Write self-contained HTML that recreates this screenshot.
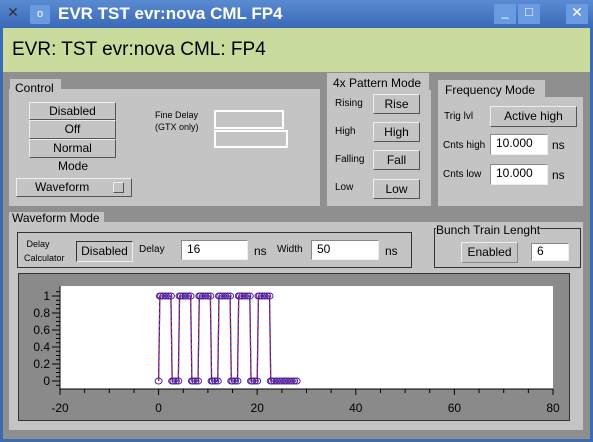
<!DOCTYPE html>
<html><head><meta charset="utf-8"><style>
*{box-sizing:border-box}
body{margin:0;width:593px;height:442px;overflow:hidden;font-family:"Liberation Sans",sans-serif;background:#3a6bb5;position:relative}
div,span{position:absolute}
.t{font-size:11px;color:#000;white-space:nowrap}
.btn{background:#c4c4c4;border:1px solid;border-color:#eee #555 #555 #eee;font-size:12px;text-align:center;line-height:16px;color:#000}
.in{background:#fff;border:1px solid;border-color:#888 #eee #eee #888;font-size:12px;padding-left:5px;line-height:17px}
.pan{background:#c4c4c4}
</style></head><body>
<div style="left:0;top:0;width:593px;height:28px;background:linear-gradient(#5a8ad0,#3a6ab8)">
 <div style="left:4px;top:4px;width:18px;height:18px;color:#333;font-size:14px;text-align:center">✕</div>
 <div style="left:30px;top:5px;width:20px;height:19px;background:#6a9ae0;border-radius:2px;color:#fff;font-size:11px;text-align:center;line-height:19px">o</div>
 <div style="left:58px;top:4px;color:#fff;font-size:17px;font-weight:bold">EVR TST evr:nova CML FP4</div>
 <div style="left:494px;top:4px;width:22px;height:20px;background:#6a9ae0;color:#fff;text-align:center;font-size:13px">_</div>
 <div style="left:518px;top:4px;width:22px;height:20px;background:#6a9ae0;color:#fff;text-align:center;font-size:13px">□</div>
 <div style="left:566px;top:4px;width:22px;height:20px;background:#6a9ae0;color:#fff;text-align:center;font-size:14px">✕</div>
</div>
<div style="left:3px;top:28px;width:587px;height:411px;background:#8f8f8f"></div>
<div style="left:3px;top:28px;width:587px;height:44px;background:#c9dc9e">
 <div style="left:9px;top:11px;font-size:19px;color:#000">EVR: TST evr:nova CML: FP4</div>
</div>
<!-- Control -->
<div class="pan" style="left:10px;top:79px;width:51px;height:12px"></div>
<div class="pan" style="left:9px;top:89px;width:311px;height:117px"></div>
<div class="t" style="left:15px;top:81px;font-size:12px">Control</div>
<div class="btn" style="left:29px;top:102px;width:87px;height:18px">Disabled</div>
<div class="btn" style="left:29px;top:120px;width:87px;height:19px">Off</div>
<div class="btn" style="left:29px;top:139px;width:87px;height:19px">Normal</div>
<div class="t" style="left:58px;top:159px;font-size:12px">Mode</div>
<div class="btn" style="left:16px;top:178px;width:116px;height:19px;text-align:left;padding-left:18px">Waveform<span style="left:96px;top:3px;width:11px;height:11px;border:1px solid;border-color:#eee #555 #555 #eee"></span></div>
<div class="t" style="left:155px;top:109px;font-size:9px;line-height:12px">Fine Delay<br>(GTX only)</div>
<div style="left:214px;top:110px;width:70px;height:19px;border:2px solid #fff"></div>
<div style="left:214px;top:130px;width:74px;height:18px;border:2px solid #fff"></div>
<!-- 4x pattern -->
<div class="pan" style="left:327px;top:73px;width:104px;height:133px"></div>
<div class="t" style="left:333px;top:76px;font-size:12px">4x Pattern Mode</div>
<div style="left:429px;top:73px;width:2px;height:17px;background:#8f8f8f"></div>
<div class="t" style="left:335px;top:98px;font-size:10px">Rising</div>
<div class="t" style="left:335px;top:126px;font-size:10px">High</div>
<div class="t" style="left:335px;top:154px;font-size:10px">Falling</div>
<div class="t" style="left:335px;top:182px;font-size:10px">Low</div>
<div class="btn" style="left:373px;top:94px;width:47px;height:20px;line-height:18px">Rise</div>
<div class="btn" style="left:373px;top:122px;width:47px;height:20px;line-height:18px">High</div>
<div class="btn" style="left:373px;top:150px;width:47px;height:20px;line-height:18px">Fall</div>
<div class="btn" style="left:373px;top:179px;width:47px;height:20px;line-height:18px">Low</div>
<!-- Frequency -->
<div class="pan" style="left:438px;top:80px;width:107px;height:18px"></div>
<div class="t" style="left:445px;top:83px;font-size:12px">Frequency Mode</div>
<div class="pan" style="left:438px;top:97px;width:145px;height:109px"></div>
<div class="t" style="left:444px;top:111px;font-size:10px">Trig lvl</div>
<div class="btn" style="left:490px;top:106px;width:87px;height:21px;line-height:19px">Active high</div>
<div class="t" style="left:443px;top:140px;font-size:10px">Cnts high</div>
<div class="in" style="left:490px;top:134px;width:58px;height:21px">10.000</div>
<div class="t" style="left:552px;top:138px;font-size:12px">ns</div>
<div class="t" style="left:443px;top:169px;font-size:10px">Cnts low</div>
<div class="in" style="left:490px;top:164px;width:58px;height:21px">10.000</div>
<div class="t" style="left:552px;top:168px;font-size:12px">ns</div>
<!-- Waveform mode -->
<div class="pan" style="left:9px;top:212px;width:95px;height:12px"></div>
<div class="pan" style="left:9px;top:222px;width:574px;height:208px"></div>
<div class="t" style="left:12px;top:211px;font-size:12px">Waveform Mode</div>
<div style="left:17px;top:232px;width:395px;height:36px;border:1px solid #333"></div>
<div class="t" style="left:24px;top:237px;font-size:9px;line-height:14px">&nbsp;Delay<br>Calculator</div>
<div class="btn" style="left:76px;top:241px;width:57px;height:21px;line-height:19px;border-color:#333 #eee #eee #333">Disabled</div>
<div class="t" style="left:139px;top:244px;font-size:10px">Delay</div>
<div class="in" style="left:181px;top:240px;width:67px;height:20px">16</div>
<div class="t" style="left:254px;top:244px;font-size:12px">ns</div>
<div class="t" style="left:277px;top:244px;font-size:10px">Width</div>
<div class="in" style="left:311px;top:240px;width:68px;height:20px">50</div>
<div class="t" style="left:385px;top:244px;font-size:12px">ns</div>
<div style="left:434px;top:228px;width:147px;height:40px;border:1px solid #333"></div>
<div class="t" style="left:436px;top:223px;font-size:12px;background:#c4c4c4">Bunch Train Lenght</div>
<div class="btn" style="left:461px;top:242px;width:57px;height:21px;line-height:19px;border-color:#eee #888 #888 #eee">Enabled</div>
<div class="in" style="left:531px;top:243px;width:38px;height:18px;line-height:15px">6</div>
<!-- chart -->
<div style="left:18px;top:273px;width:552px;height:148px;background:#8a8a8a;border:1px solid #333"></div>
<svg width="593" height="442" style="position:absolute;left:0;top:0" id="chart"></svg>
<script>
const xValues=[0,0.25,0.5,1,1.5,2,2.5,2.75,3,3.5,4,4.25,4.5,5,5.5,6,6.5,6.75,7,7.5,8,8.25,8.5,9,9.5,10,10.5,10.75,11,11.5,12,12.25,12.5,13,13.5,14,14.5,14.75,15,15.5,16,16.25,16.5,17,17.5,18,18.5,18.75,19,19.5,20,20.25,20.5,21,21.5,22,22.5,22.75,23,23.5,24,24.5,25,25.5,26,26.5,27,27.5,28];
const yValues=[0,1,1,1,1,1,1,0,0,0,0,1,1,1,1,1,1,0,0,0,0,1,1,1,1,1,1,0,0,0,0,1,1,1,1,1,1,0,0,0,0,1,1,1,1,1,1,0,0,0,0,1,1,1,1,1,1,0,0,0,0,0,0,0,0,0,0,0,0];
const xTicks=[-20,0,20,40,60,80];
const yTicks=[0,0.2,0.4,0.6,0.8,1];
const NS='http://www.w3.org/2000/svg';
const svg=document.getElementById('chart');
const X0=60,X1=553,Y0=381,Y1=296;
const sx=v=>X0+(v+20)/100*(X1-X0);
const sy=v=>Y0-v*(Y0-Y1);
function mk(t,a){const e=document.createElementNS(NS,t);for(const k in a)e.setAttribute(k,a[k]);svg.appendChild(e);return e;}
let e=mk('rect',{x:X0,y:286,width:X1-X0,height:103,fill:'#fff'});


e=mk('line',{x1:X0,y1:389,x2:X1,y2:389,stroke:'#000'});


e=mk('line',{x1:X0,y1:286,x2:X0,y2:389,stroke:'#000'});


for(let v=-20;v<=80;v+=5){const l=mk('line',{x1:sx(v),y1:389,x2:sx(v),y2:v%20===0?395:393,stroke:'#000'});}
xTicks.forEach(v=>{const t=mk('text',{x:sx(v),y:412,'text-anchor':'middle','font-size':'12','font-family':'Liberation Sans, sans-serif'});t.textContent=v;});
for(let v=-0.05;v<=1.1;v+=0.05){const l=mk('line',{x1:X0-4,y1:sy(v),x2:X0,y2:sy(v),stroke:'#000'});}
yTicks.forEach(v=>{const l=mk('line',{x1:X0-8,y1:sy(v),x2:X0,y2:sy(v),stroke:'#000'});const t=mk('text',{x:X0-10,y:sy(v)+4,'text-anchor':'end','font-size':'12','font-family':'Liberation Sans, sans-serif'});t.textContent=v;});
const pts=xValues.map((x,i)=>sx(x)+','+sy(yValues[i])).join(' ');
e=mk('polyline',{points:pts,fill:'none',stroke:'#2020c0','stroke-width':1.3});


e=mk('polyline',{points:pts,fill:'none',stroke:'#d03030','stroke-width':1.3,'stroke-dasharray':'3 3'});


xValues.forEach((x,i)=>{const c=mk('ellipse',{cx:sx(x),cy:sy(yValues[i]),rx:3.5,ry:3,fill:'none',stroke:'#5020a0','stroke-width':1});});
</script>
</body></html>
